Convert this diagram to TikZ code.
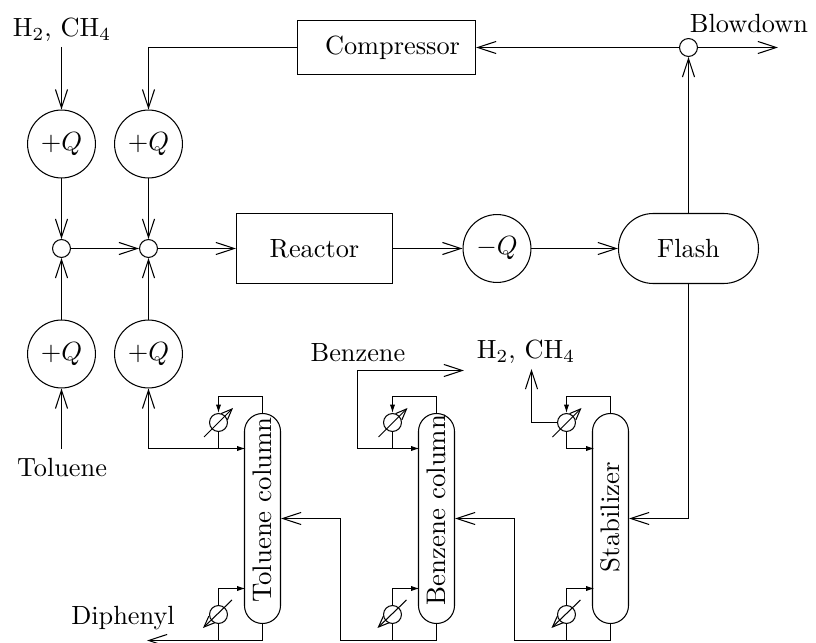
\documentclass[tikz,border=0pt]{standalone}
\usepackage{amsmath}
\usetikzlibrary{arrows.meta}
\tikzset{
  flow/.style={-{Straight Barb[length=7pt,width=4.6pt]}},
  tick/.style={-{Latex[length=3.2pt,width=2pt]}},
  diag/.style={-{Straight Barb[length=4.2pt,width=3.4pt]}},
  heater/.style={circle, draw, minimum size=25.8pt, inner sep=0pt},
  mixer/.style={circle, draw, minimum size=6.8pt, inner sep=0pt},
  cooler/.style={circle, draw, minimum size=6.8pt, inner sep=0pt},
  block/.style={rectangle, draw, inner sep=0pt},
  column/.style={rectangle, draw, minimum width=13.68pt, minimum height=79.8pt, rounded corners=6.8pt, inner sep=0pt}
}
\begin{document}
\begin{tikzpicture}[x=0.38pt, y=-0.38pt]
\useasboundingbox (0,0) rectangle (816,643);
% Top row
\node[block, minimum width=67.64pt, minimum height=20.52pt] (comp) at (386.5,47.5) {\hspace*{4.6pt}Compressor};
\node[mixer] (purge) at (688.5,47.5) {};
\node (blow) at (749,24) {Blowdown};
\coordinate (blowend) at (778,47.5);
\node (hch) at (62,30) {H$_2$, CH$_4$};
\coordinate (hchin) at (61.5,47);
% Heaters
\node[heater] (qa) at (61.5,144) {$+Q$};
\node[heater] (qb) at (148.5,144) {$+Q$};
\node[heater] (qc) at (61.5,354) {$+Q$};
\node[heater] (qd) at (148.5,354) {$+Q$};
\node (tol) at (62,468) {Toluene};
\coordinate (tolin) at (61.5,449);
% Middle row
\node[mixer] (mixa) at (61.5,248.5) {};
\node[mixer] (mixb) at (148.5,248.5) {};
\node[block, minimum width=59.28pt, minimum height=26.6pt] (reac) at (314.5,248.5) {Reactor};
\node[heater] (qm) at (497,248.5) {$-Q$};
\node[rectangle, draw, minimum width=53.2pt, minimum height=26.6pt, rounded corners=13.2pt, inner sep=0pt] (flash) at (688.5,248.5) {Flash};
% Columns
\node[column] (tcol) at (262.5,518.5) {};
\node[column] (bcol) at (436.5,518.5) {};
\node[column] (scol) at (610.5,518.5) {};
\node[rotate=90, scale=1.02] (tname) at (262,510) {Toluene column};
\node[rotate=90, scale=1.02] (bname) at (436,510) {Benzene column};
\node[rotate=90, scale=1.02] (sname) at (610,517) {Stabilizer};
% Condensers and reboilers
\node[cooler] (tcon) at (218.5,422.5) {};
\node[cooler] (bcon) at (392.5,422.5) {};
\node[cooler] (scon) at (566.5,422.5) {};
\node[cooler] (treb) at (218.5,614.5) {};
\node[cooler] (breb) at (392.5,614.5) {};
\node[cooler] (sreb) at (566.5,614.5) {};
\node (ben) at (358,353) {Benzene};
\node (hcs) at (526,352) {H$_2$, CH$_4$};
\node (dip) at (123,618) {Diphenyl};
% Points on the pipes
\coordinate (ttop) at (218.5,396.5);
\coordinate (btop) at (392.5,396.5);
\coordinate (stop) at (566.5,396.5);
\coordinate (tback) at (245.5,448.5);
\coordinate (bback) at (419.5,448.5);
\coordinate (sback) at (594.5,448.5);
\coordinate (tboil) at (245.5,588.5);
\coordinate (bboil) at (419.5,588.5);
\coordinate (sboil) at (594.5,588.5);
\coordinate (tout) at (147,640.5);
\coordinate (bout) at (340.5,640.5);
\coordinate (sout) at (514.5,640.5);
\coordinate (bturn) at (357.5,448.5);
\coordinate (bend) at (464,370.5);
\coordinate (sturn) at (531.5,422.5);
\coordinate (send) at (531.5,369);
% Main flows
\draw[flow] (hchin) -- (qa);
\draw[flow] (comp.west) -| (qb.north);
\draw[flow] (purge) -- (comp.east);
\draw[flow] (purge) -- (blowend);
\draw[flow] (flash.north) -- (purge);
\draw[flow] (qa) -- (mixa);
\draw[flow] (qb) -- (mixb);
\draw[flow] (qc) -- (mixa);
\draw[flow] (qd) -- (mixb);
\draw[flow] (tolin) -- (qc);
\draw[flow] (mixa) -- (mixb);
\draw[flow] (mixb) -- (reac);
\draw[flow] (reac) -- (qm);
\draw[flow] (qm) -- (flash);
\draw[flow] (flash.south) |- (scol.east);
\draw[flow] (sout) |- (bcol.east);
\draw[flow] (bout) |- (tcol.east);
\draw[flow] (tback) -| (qd.south);
% Toluene column
\draw[tick] (tcol.north) |- (ttop) -- (tcon.north);
\draw[tick] (tcon.south) |- (tback);
\draw[tick] (treb.north) |- (tboil);
\draw (treb.south) -- (treb.south |- tout);
\draw[flow] (tcol.south) |- (tout);
\draw[diag] (204,437) -- (233,408);
\draw[diag] (232,600) -- (203,628);
% Benzene column
\draw[tick] (bcol.north) |- (btop) -- (bcon.north);
\draw[tick] (bcon.south) |- (bback);
\draw[flow] (bback) -- (bturn) |- (bend);
\draw[tick] (breb.north) |- (bboil);
\draw (breb.south) -- (breb.south |- bout);
\draw (bcol.south) |- (bout);
\draw[diag] (378.5,437) -- (407.5,408);
\draw[diag] (406.5,600) -- (377.5,628);
% Stabilizer
\draw[tick] (scol.north) |- (stop) -- (scon.north);
\draw[tick] (scon.south) |- (sback);
\draw[flow] (scon.west) -- (sturn) -- (send);
\draw[tick] (sreb.north) |- (sboil);
\draw (sreb.south) -- (sreb.south |- sout);
\draw (scol.south) |- (sout);
\draw[diag] (552.5,437) -- (581.5,408);
\draw[diag] (580.5,600) -- (551.5,628);
\end{tikzpicture}
\end{document}
